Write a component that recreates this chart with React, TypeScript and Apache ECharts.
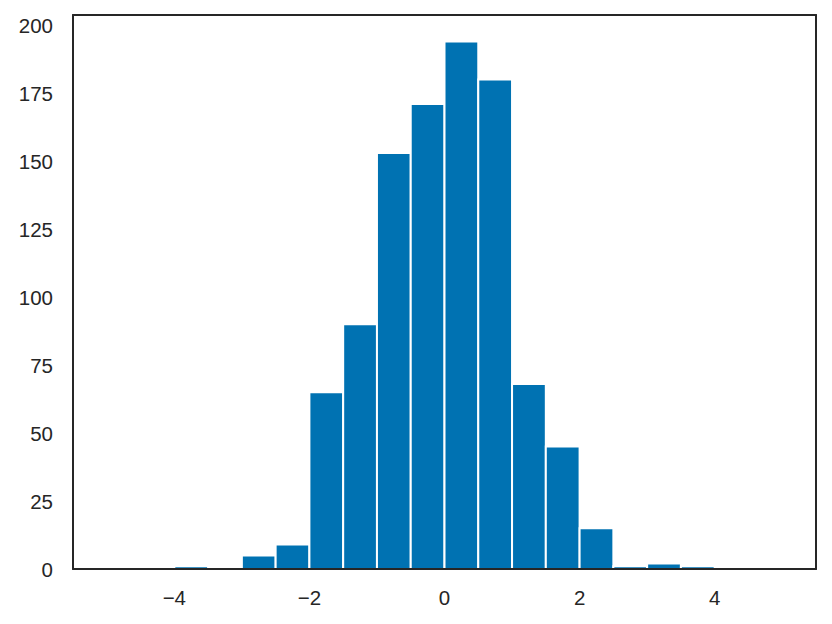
import React, { useEffect, useRef } from 'react';
import * as echarts from 'echarts';

// histogram of 1000 samples, 20 bins of width 0.5 over [-5, 5]
const binStarts = [
  -5, -4.5, -4, -3.5, -3, -2.5, -2, -1.5, -1, -0.5,
  0, 0.5, 1, 1.5, 2, 2.5, 3, 3.5, 4, 4.5,
];
const binWidth = 0.5;
const counts = [
  0, 0, 1, 0, 5, 9, 65, 90, 153, 171,
  194, 180, 68, 45, 15, 1, 2, 1, 0, 0,
];
const xTicks = [-4, -2, 0, 2, 4];
const yTicks = [0, 25, 50, 75, 100, 125, 150, 175, 200];

const BAR_COLOR = '#0072B2';
const INK = '#262626';
const FONT = '"Liberation Sans", Arial, "DejaVu Sans", sans-serif';
const FONT_SIZE = 20.5;

const fmtMinus = (v: number) => (v < 0 ? `\u2212${Math.abs(v)}` : String(v));

export default function App() {
  const ref = useRef<HTMLDivElement>(null);

  useEffect(() => {
    if (!ref.current) return;
    const chart = echarts.init(ref.current, null, { renderer: 'svg' });

    const data = binStarts.map((x0, i) => [x0, x0 + binWidth, counts[i]]);
    const yMax = Math.max(...counts) * 1.05;

    const frameAxis = {
      show: true,
      axisLine: { show: true, onZero: false, lineStyle: { color: INK, width: 2 } },
      axisTick: { show: false },
      axisLabel: { show: false },
      splitLine: { show: false },
      z: 10,
    };

    chart.setOption({
      animation: false,
      grid: { left: 73, right: 16, top: 15, bottom: 55 },
      xAxis: [
        {
          type: 'value',
          min: -5.5,
          max: 5.5,
          ...frameAxis,
          axisLabel: {
            show: true,
            customValues: xTicks,
            formatter: fmtMinus,
            color: INK,
            fontSize: FONT_SIZE,
            fontFamily: FONT,
            margin: 18,
          },
        },
        { type: 'value', position: 'top', min: -5.5, max: 5.5, ...frameAxis },
      ],
      yAxis: [
        {
          type: 'value',
          min: 0,
          max: yMax,
          ...frameAxis,
          axisLabel: {
            show: true,
            customValues: yTicks,
            color: INK,
            fontSize: FONT_SIZE,
            fontFamily: FONT,
            margin: 20,
          },
        },
        { type: 'value', position: 'right', min: 0, max: yMax, ...frameAxis },
      ],
      series: [
        {
          type: 'custom',
          xAxisIndex: 0,
          yAxisIndex: 0,
          data,
          encode: { x: [0, 1], y: 2 },
          renderItem: (params: any, api: any) => {
            const x0 = api.value(0);
            const x1 = api.value(1);
            const c = api.value(2);
            if (!c) return null;
            const p0 = api.coord([x0, c]);
            const p1 = api.coord([x1, 0]);
            return {
              type: 'rect',
              shape: { x: p0[0], y: p0[1], width: p1[0] - p0[0], height: p1[1] - p0[1] },
              style: { fill: BAR_COLOR, stroke: '#ffffff', lineWidth: 2 },
            };
          },
        },
      ],
    });

    return () => chart.dispose();
  }, []);

  return (
    <div
      ref={ref}
      style={{ position: 'absolute', left: 0, top: 0, width: 832, height: 624, background: '#fff' }}
    />
  );
}
